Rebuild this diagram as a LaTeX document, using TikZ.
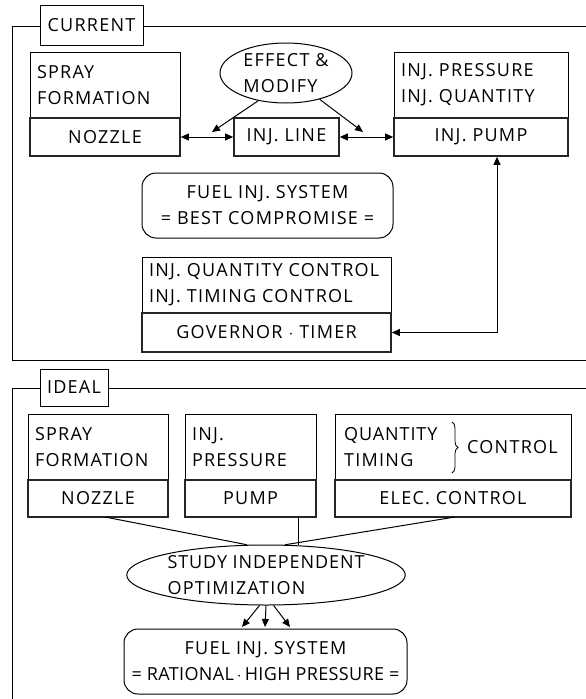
\documentclass[tikz,border=0pt]{standalone}
\usepackage{fontspec}
\setmainfont[LetterSpace=7]{Open Sans}
\usetikzlibrary{shapes.geometric,arrows.meta,calc,decorations.pathreplacing}
\begin{document}
\begin{tikzpicture}[x=1pt,y=-1pt,
  lbl/.style={draw,line width=1pt,inner sep=0pt,align=center,font=\fontsize{18}{26}\selectfont},
  topbox/.style={lbl,align=left,text width=#1-14pt,minimum width=#1},
  dbox/.style={draw,line width=1.7pt,draw=black!85,inner sep=0pt,font=\fontsize{18}{26}\selectfont,minimum width=#1,minimum height=38pt},
  rbox/.style={lbl,rounded corners=14pt},
  ell/.style={draw,ellipse,line width=1pt,inner sep=0pt,font=\fontsize{18}{26}\selectfont,align=left},
  txt/.style={inner sep=0pt,align=left,font=\fontsize{18}{26}\selectfont},
  frame/.style={line width=1pt},
  conn/.style={line width=1pt},
  tip/.style={-{Triangle[length=8pt,width=7pt]}},
  tips/.style={{Triangle[length=8pt,width=7pt]}-{Triangle[length=8pt,width=7pt]}}
]
\useasboundingbox (0,0) rectangle (586,699);
% ---------- CURRENT ----------
\node[lbl,minimum width=103pt,minimum height=40pt] (cur) at (91.5,25) {CURRENT};
\draw[frame] (cur.west |- 0,26) -- (12,26) -- (12,360) -- (586,360);
\draw[frame] (cur.east |- 0,26) -- (586,26);

\node[topbox=150pt,minimum height=66pt] (sf1) at (105,85) {SPRAY\\FORMATION};
\node[dbox=150pt] (sf2) at (105,137) {NOZZLE};
\node[dbox=105pt] (il) at (286.5,137) {INJ. LINE};
\node[topbox=174pt,minimum height=66pt] (ip1) at (481,85) {INJ. PRESSURE\\INJ. QUANTITY};
\node[dbox=174pt] (ip2) at (481,137) {INJ. PUMP};
\node[ell,minimum width=132pt,minimum height=60pt] (eff) at (286,73) {EFFECT \&\\MODIFY};

\node[rbox,minimum width=251pt,minimum height=65pt] (fuel) at (267.5,205.5) {FUEL INJ. SYSTEM\\= BEST COMPROMISE =};
\node[topbox=249pt,minimum height=56pt] (gov1) at (266.5,285) {INJ. QUANTITY CONTROL\\INJ. TIMING CONTROL};
\node[dbox=249pt,minimum height=39pt] (gov2) at (266.5,332.5) {GOVERNOR $\cdot$ TIMER};

\draw[conn,tips] (sf2.east) -- (il.west);
\draw[conn,tips] (il.east) -- (ip2.west);
\coordinate (e1) at (212,132);
\coordinate (e2) at (363,132);
\draw[conn,tip] (eff.225) -- (e1);
\draw[conn,tip] (eff.322) -- (e2);
\coordinate (pv) at ($(ip2.south)+(16,0)$);
\draw[conn,tips] (pv) |- (gov2.east);

% ---------- IDEAL ----------
\node[lbl,minimum width=68pt,minimum height=37pt] (ide) at (74,387.5) {IDEAL};
\draw[frame] (ide.west |- 0,388) -- (12,388) -- (12,699);
\draw[frame] (ide.east |- 0,388) -- (586,388);

\node[topbox=140pt,minimum height=66pt] (isf1) at (98,447) {SPRAY\\FORMATION};
\node[dbox=140pt,minimum height=37pt] (isf2) at (98,498.5) {NOZZLE};
\node[topbox=131pt,minimum height=66pt] (ipr1) at (250.5,447) {INJ.\\PRESSURE};
\node[dbox=131pt,minimum height=37pt] (ipr2) at (250.5,498.5) {PUMP};
\node[lbl,minimum width=236pt,minimum height=66pt] (ic1) at (453,447) {};
\node[txt,anchor=west] (qt) at (344,447) {\addfontfeatures{LetterSpace=5}QUANTITY\\TIMING};
\node[txt,anchor=west] (ctl) at (467,447) {CONTROL};
\draw[line width=0.8pt,decorate,decoration={brace,amplitude=6pt}] (452,422) -- (452,473);
\node[dbox=236pt,minimum height=37pt] (ic2) at (453,498.5) {ELEC. CONTROL};

\node[ell,minimum width=268pt,minimum height=60pt] (st) at (266,575) {\addfontfeatures{LetterSpace=5}STUDY INDEPENDENT\\OPTIMIZATION};
\node[rbox,minimum width=283pt,minimum height=65pt] (fin) at (265.5,661.5) {FUEL INJ. SYSTEM\\{\addfontfeatures{LetterSpace=2}= RATIONAL\,$\cdot$\,HIGH PRESSURE =}};

\coordinate (n1) at (105,517);
\coordinate (n2) at (298,517);
\coordinate (n3) at (455,517);
\draw[conn] (n1) -- (st.122);
\draw[conn] (n2) -- (n2 |- st.north) ;
\draw[conn] (n3) -- (st.58);
\coordinate (a1) at (242,627);
\coordinate (a2) at (265,627);
\coordinate (a3) at (290,627);
\draw[conn,tip] (st.258) -- (a1);
\draw[conn,tip] (st.south) -- (a2);
\draw[conn,tip] (st.284) -- (a3);
\end{tikzpicture}
\end{document}
